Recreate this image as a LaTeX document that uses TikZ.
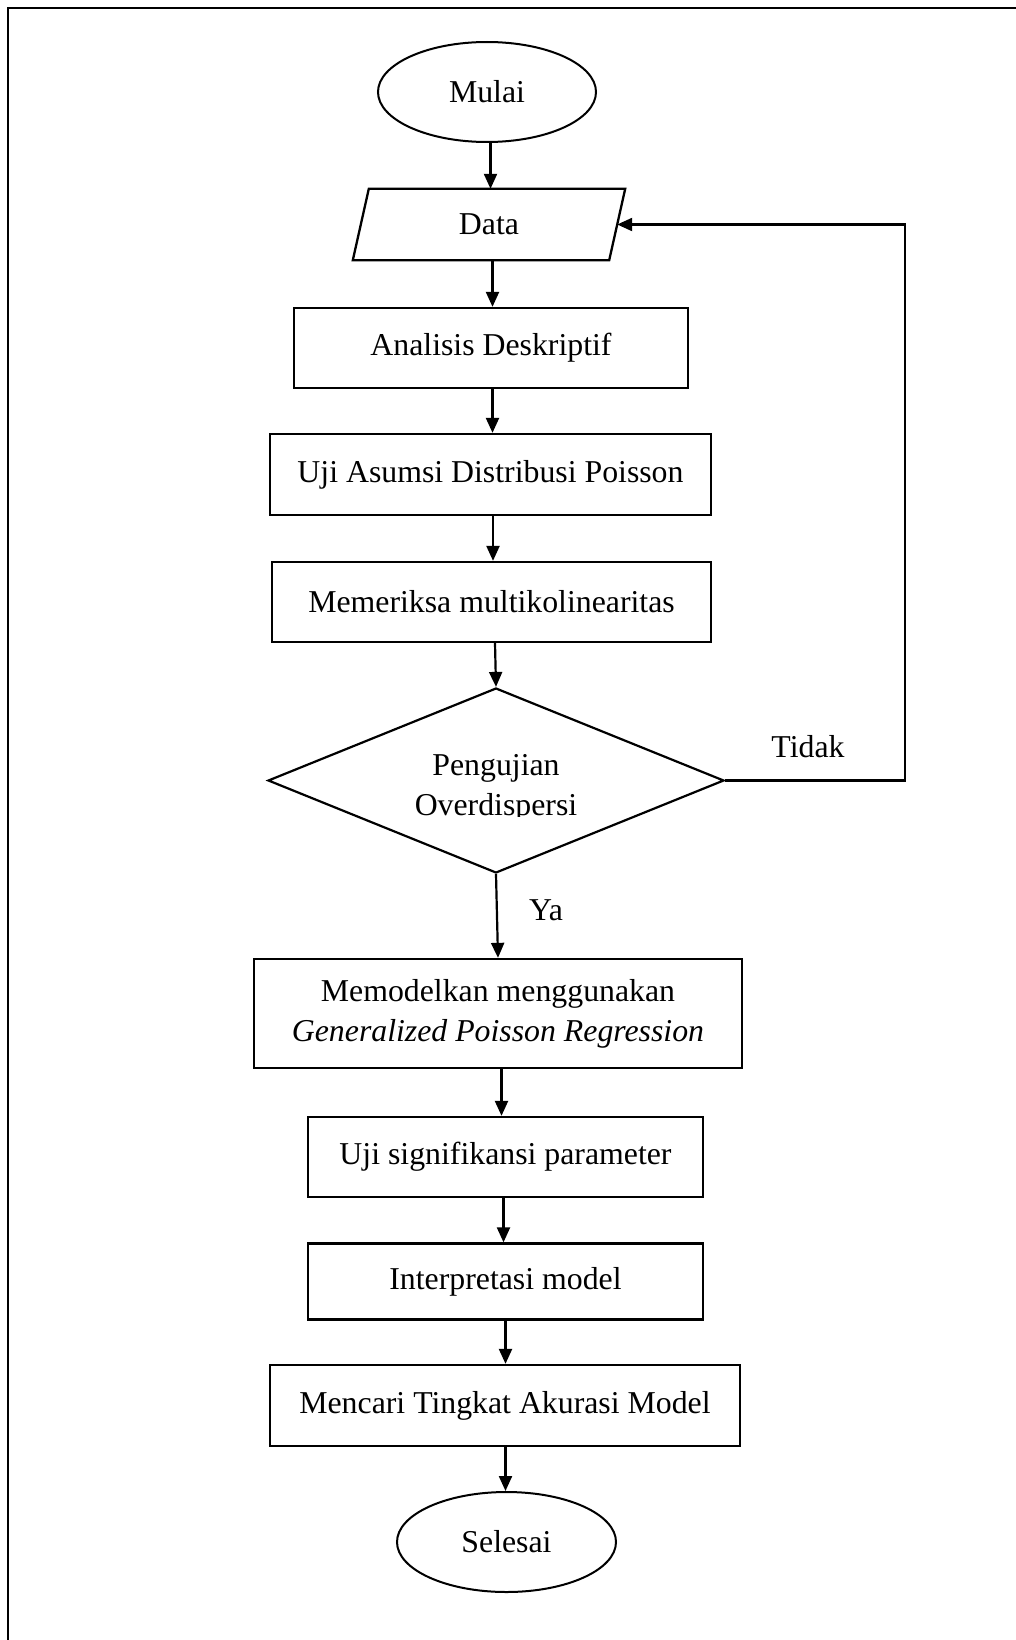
\documentclass[tikz,border=0pt]{standalone}
\usepackage{fontspec}
\setmainfont{Liberation Serif}
\usetikzlibrary{shapes.geometric,arrows.meta,calc}
\begin{document}
\begin{tikzpicture}[x=1pt,y=-1pt,
  font=\fontsize{31.8}{40}\selectfont,
  box/.style={draw,line width=2.3pt,rectangle,inner sep=0pt,align=center},
  term/.style={draw,ellipse,line width=2pt,inner sep=0pt},
  conn/.style={line width=2.2pt,-{Triangle[length=15pt,width=13pt]}},
  lbl/.style={inner sep=0pt}]
\useasboundingbox (0,0) rectangle (1016,1640);
\draw[line width=2.5pt] (8,1640) -- (8,8) -- (1016,8);

\node[term,minimum width=218pt,minimum height=100pt] (mulai) at (487,92) {Mulai};
\node[inner sep=0pt,minimum width=256pt,minimum height=71pt] (data) at (489,224.5) {Data};
\draw[line width=2.3pt] ([xshift=8pt]data.north west) -- ([xshift=8pt]data.north east) -- ([xshift=-8pt]data.south east) -- ([xshift=-8pt]data.south west) -- cycle;
\node[box,minimum width=394pt,minimum height=80pt] (ana) at (491,348) {Analisis Deskriptif};
\node[box,minimum width=441pt,minimum height=81pt] (uji) at (490.5,474.5) {Uji Asumsi Distribusi Poisson};
\node[box,minimum width=439pt,minimum height=80pt] (mem) at (491.5,602) {Memeriksa multikolinearitas};
\node[draw,diamond,line width=2.2pt,minimum width=456pt,minimum height=185pt,inner sep=0pt] (dec) at (496,780.5) {};
\begin{scope}
\clip (0,0) rectangle (1016,816);
\node[align=center,inner sep=0pt] (dectext) at (496,788) {Pengujian\\Overdispersi};
\end{scope}
\node[lbl] (tidak) at (808,747) {Tidak};
\node[lbl] (ya) at (546,910) {Ya};
\node[box,minimum width=488pt,minimum height=109pt] (mod) at (498,1013.5) {Memodelkan menggunakan\\\textit{Generalized Poisson Regression}};
\node[box,minimum width=395pt,minimum height=80pt] (sig) at (505.5,1157) {Uji signifikansi parameter};
\node[box,minimum width=395pt,minimum height=76pt] (int) at (505.5,1281.5) {Interpretasi model};
\node[box,minimum width=470pt,minimum height=81pt] (acc) at (505,1405.5) {Mencari Tingkat Akurasi Model};
\node[term,minimum width=219pt,minimum height=100pt] (sel) at (506.5,1542) {Selesai};

\coordinate (x1) at (490.5,0);
\coordinate (x2) at (492.5,0);
\coordinate (x3) at (492.5,0);
\coordinate (x4) at (493,0);
\coordinate (x5) at (495,0);
\coordinate (x7) at (501.5,0);
\coordinate (x8) at (503.5,0);
\coordinate (x9) at (505.5,0);

\draw[conn] (mulai.south -| x1) -- (data.north -| x1);
\draw[conn] (data.south -| x2) -- (ana.north -| x2);
\draw[conn] (ana.south -| x3) -- (uji.north -| x3);
\draw[conn] (uji.south -| x4) -- (mem.north -| x4);
\draw[conn] (mem.south -| x5) -- (dec.north);
\draw[conn] (dec.south) -- (mod.north);
\draw[conn] (mod.south -| x7) -- (sig.north -| x7);
\draw[conn] (sig.south -| x8) -- (int.north -| x8);
\draw[conn] (int.south -| x9) -- (acc.north -| x9);
\draw[conn] (acc.south -| x9) -- (sel.north -| x9);
\draw[conn] (dec.east) -- ++(180,0) |- (data.east);
\end{tikzpicture}
\end{document}
